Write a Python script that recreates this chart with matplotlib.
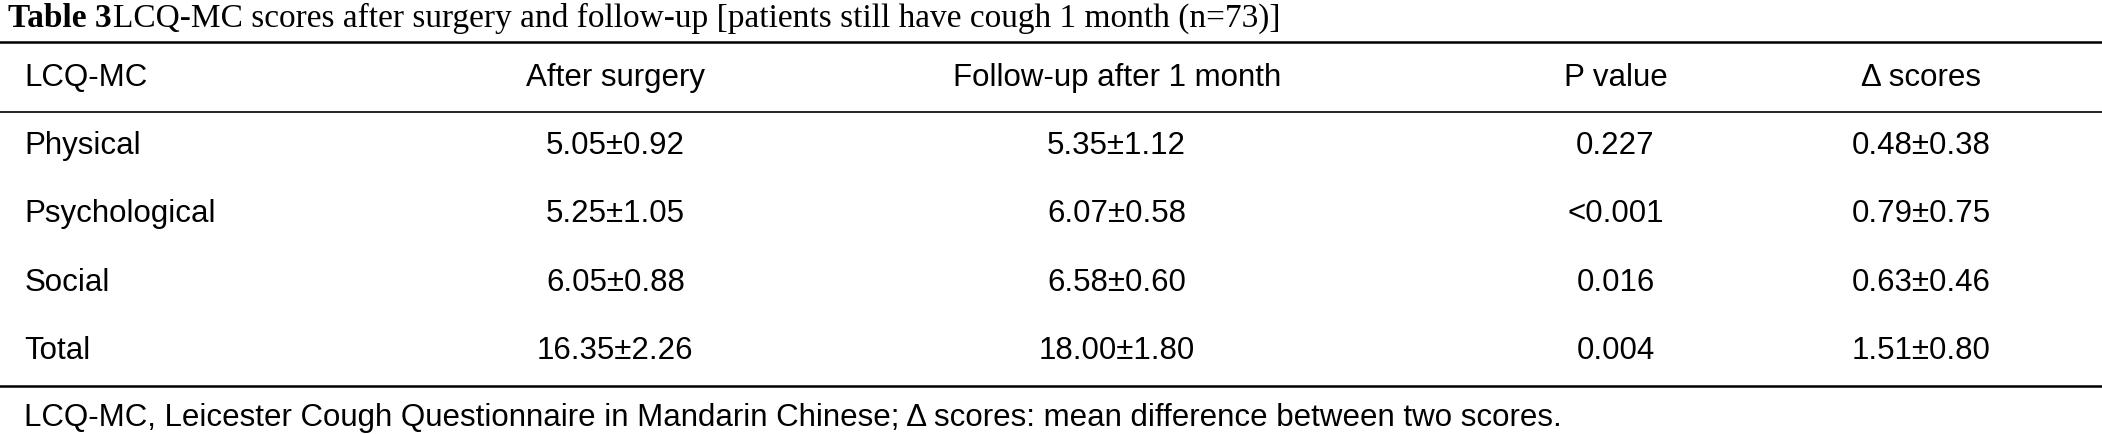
import matplotlib
matplotlib.use("Agg")
import matplotlib.pyplot as plt
from matplotlib.lines import Line2D

W, H = 2102, 435
S = 2102 / 1568
headers = ["LCQ-MC", "After surgery", "Follow-up after 1 month", "P value", "Δ scores"]
rows = ["Physical", "Psychological", "Social", "Total"]
after = ["5.05±0.92", "5.25±1.05", "6.05±0.88", "16.35±2.26"]
follow = ["5.35±1.12", "6.07±0.58", "6.58±0.60", "18.00±1.80"]
pvals = ["0.227", "<0.001", "0.016", "0.004"]
delta = ["0.48±0.38", "0.79±0.75", "0.63±0.46", "1.51±0.80"]

fig = plt.figure(figsize=(W/100, H/100), dpi=100)
def fx(x): return x * S / W
def fy(y): return 1 - y * S / H

fs = 22.5
sans = ["Liberation Sans", "DejaVu Sans"]
serif = ["Liberation Serif", "DejaVu Serif"]

fig.text(fx(6), fy(14), "Table 3", fontsize=24, family=serif, weight="bold", va="center", ha="left")
fig.text(fx(84), fy(14), "LCQ-MC scores after surgery and follow-up [patients still have cough 1 month (n=73)]",
         fontsize=24, family=serif, va="center", ha="left")

for y, lw in [(32, 1.8), (84, 1.2), (289, 1.8)]:
    fig.add_artist(Line2D([0, 1], [fy(y), fy(y)], color="black", lw=lw))

colx = [18, 459, 833, 1205, 1433]
def row(y, vals):
    for i, (x, v) in enumerate(zip(colx, vals)):
        fig.text(fx(x), fy(y), v, fontsize=fs, family=sans, va="center",
                 ha="left" if i == 0 else "center")

row(58, headers)
for k in range(len(rows)):
    row(109 + 51*k, [rows[k], after[k], follow[k], pvals[k], delta[k]])

fig.text(fx(18), fy(312), "LCQ-MC, Leicester Cough Questionnaire in Mandarin Chinese; Δ scores: mean difference between two scores.",
         fontsize=fs, family=sans, va="center", ha="left")
fig.savefig("out.png", dpi=100)
